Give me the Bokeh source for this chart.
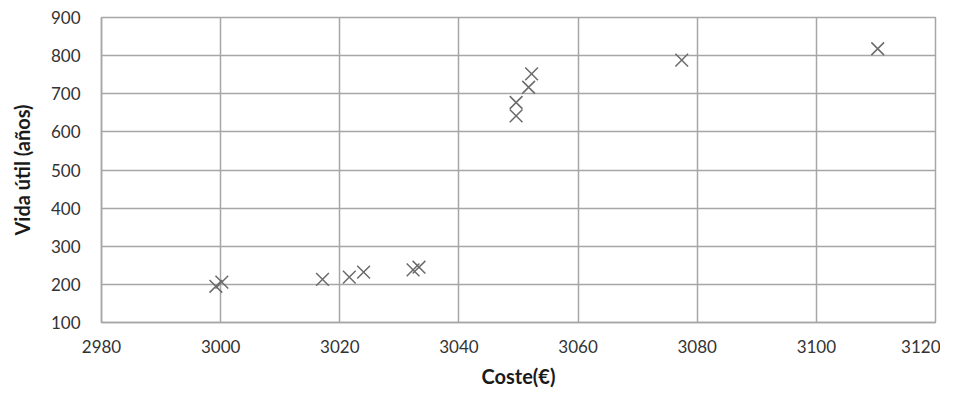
from bokeh.plotting import figure
from bokeh.models import ColumnDataSource, FixedTicker, Range1d
from bokeh.embed import file_html
from bokeh.resources import INLINE

coste = [2999.2, 3000.2, 3017.1, 3021.6, 3024.0, 3032.3, 3033.3,
         3049.6, 3049.6, 3051.7, 3052.2, 3077.4, 3110.3]
vida = [195, 206, 213, 219, 232, 238, 245,
        642, 677, 717, 752, 788, 818]
x_ticks = [2980, 3000, 3020, 3040, 3060, 3080, 3100, 3120]
y_ticks = [100, 200, 300, 400, 500, 600, 700, 800, 900]

src = ColumnDataSource(dict(x=coste, y=vida))

p = figure(width=940, height=390, output_backend="svg", toolbar_location=None,
           x_range=Range1d(2980, 3120), y_range=Range1d(100, 900),
           min_border_left=101, min_border_right=5, min_border_top=17,
           min_border_bottom=66)
p.outline_line_color = "#a6a6a6"
p.outline_line_width = 1.5

p.scatter("x", "y", source=src, marker="x", size=18, line_color="#6b6b6b",
          line_width=1.5)

for ax in (p.xaxis[0], p.yaxis[0]):
    ax.major_tick_line_color = None
    ax.minor_tick_line_color = None
    ax.axis_line_color = "#a6a6a6"
    ax.axis_line_width = 1.5
    ax.major_label_text_font = "Lato"
    ax.major_label_text_font_size = "17px"
    ax.major_label_text_color = "#333333"
    ax.axis_label_text_font = "Lato"
    ax.axis_label_text_font_style = "bold"
    ax.axis_label_text_font_size = "20px"
    ax.axis_label_text_color = "#1a1a1a"

p.xaxis.ticker = FixedTicker(ticks=x_ticks)
p.yaxis.ticker = FixedTicker(ticks=y_ticks)
p.xaxis.axis_label = "Coste(€)"
p.yaxis.axis_label = "Vida útil (años)"
p.xaxis.major_label_standoff = 11
p.yaxis.major_label_standoff = 15
p.xaxis.axis_label_standoff = 8
p.yaxis.axis_label_standoff = 14

p.xgrid.grid_line_color = "#a6a6a6"
p.ygrid.grid_line_color = "#a6a6a6"
p.xgrid.grid_line_width = 1.5
p.ygrid.grid_line_width = 1.5

open("out.html", "w").write(file_html(p, INLINE))
